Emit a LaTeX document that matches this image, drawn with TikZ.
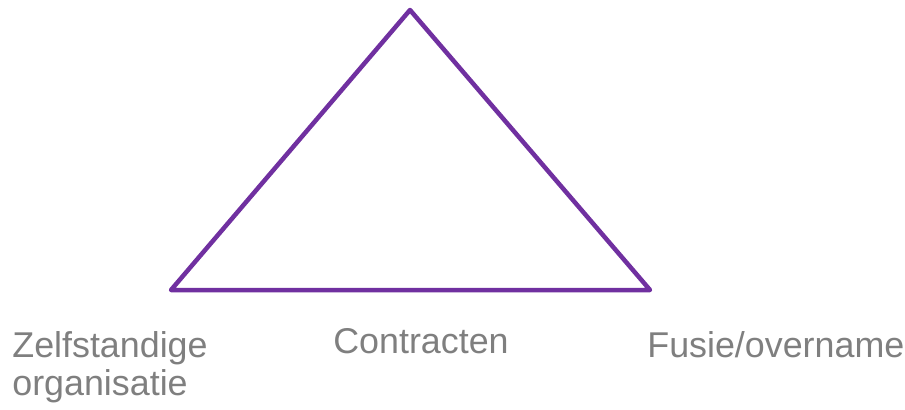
\documentclass[tikz,border=0pt]{standalone}
\usepackage{fontspec}
\setmainfont{Liberation Sans}
\usepackage{tikz}
\usepackage{xcolor}
\usetikzlibrary{positioning}
\definecolor{paars}{HTML}{7030A0}
\definecolor{grijs}{HTML}{7F7F7F}
\tikzset{
    label/.style={text=grijs, inner sep=0pt, align=left, font=\fontsize{20.4}{22}\selectfont}
}

\begin{document}
\begin{tikzpicture}[x=0.02cm, y=-0.02cm]
                            \useasboundingbox (0, 0) rectangle (905, 409);
                            \coordinate (top) at (410, 10);
                            \coordinate (links) at (171, 290);
                            \coordinate (rechts) at (650, 290);
                            \draw[paars, line width=0.09cm, line join=round] (top) -- (rechts) -- (links) -- cycle;
                            \node[label, anchor=base west] (zelf) at (12, 357) {Zelfstandige};
                            \node[label, anchor=base west] (org) at (12, 395) {organisatie};
                            \node[label, anchor=base] (contract) at (421, 353) {Contracten};
                            \node[label, anchor=base west] (fusie) at (647, 357) {Fusie/overname};
                        \end{tikzpicture}
\end{document}
